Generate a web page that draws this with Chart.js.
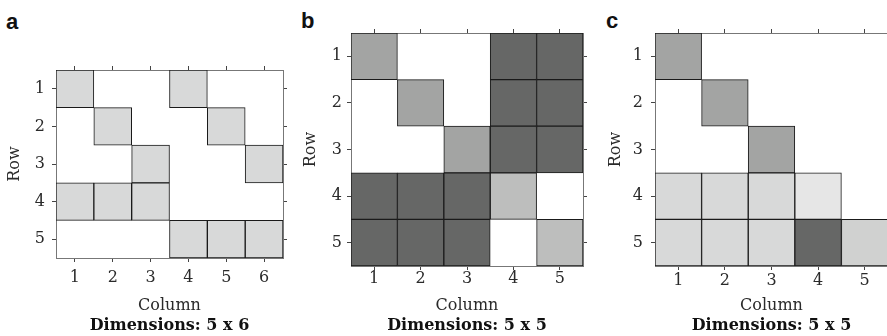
<!DOCTYPE html>
<html>
<head>
<meta charset="utf-8">
<script src="https://cdn.jsdelivr.net/npm/chart.js@4.4.0/dist/chart.umd.min.js"></script>
<style>
  html, body { margin: 0; padding: 0; background: #fff; width: 887px; height: 336px; overflow: hidden; }
  body { position: relative; }
  .panel { position: absolute; top: 0; height: 336px; }
  .tag { position: absolute; font: bold 22px "Liberation Sans", Arial, sans-serif; line-height: 22px; color: #111; }
</style>
</head>
<body>
<div class="tag" style="left:6px;top:11px">a</div>
<div class="tag" style="left:301px;top:10px">b</div>
<div class="tag" style="left:606px;top:10px">c</div>
<div class="panel" style="left:0;width:296px"><canvas id="chartA" width="296" height="336"></canvas></div>
<div class="panel" style="left:296px;width:296px"><canvas id="chartB" width="296" height="336"></canvas></div>
<div class="panel" style="left:600px;width:296px"><canvas id="chartC" width="296" height="336"></canvas></div>
<script>
// ---- data ----
const rowLabels = ['1', '2', '3', '4', '5'];
const colsA = [1, 2, 3, 4, 5, 6];
const colsB = [1, 2, 3, 4, 5];
const colsC = [1, 2, 3, 4, 5];

// shade code per cell, 0 = empty
const cellsA = [
  [1, 0, 0, 1, 0, 0],
  [0, 1, 0, 0, 1, 0],
  [0, 0, 1, 0, 0, 1],
  [1, 1, 1, 0, 0, 0],
  [0, 0, 0, 1, 1, 1]
];
const cellsB = [
  [2, 0, 0, 4, 4],
  [0, 2, 0, 4, 4],
  [0, 0, 2, 4, 4],
  [4, 4, 4, 3, 0],
  [4, 4, 4, 0, 3]
];
const cellsC = [
  [2, 0, 0, 0, 0],
  [0, 2, 0, 0, 0],
  [0, 0, 2, 0, 0],
  [1, 1, 1, 5, 0],
  [1, 1, 1, 4, 6]
];

const shades = { 1: '#d8d9d9', 2: '#a3a4a3', 3: '#bdbebd', 4: '#666766', 5: '#e6e6e6', 6: '#d0d1d0' };

const serif = '"DejaVu Serif", "Liberation Serif", serif';
const textColor = '#2a2a2a';
const TITLE_TOP = 315.8; // top of the "Dimensions" line

function cellDatasets(cols, cells) {
  return cols.map((c, j) => ({
    data: rowLabels.map((r, i) => cells[i][j] ? [c - 0.5, c + 0.5] : null),
    backgroundColor: cells.map(row => shades[row[j]] || 'transparent'),
    borderColor: '#1a1a1a',
    borderWidth: 1,
    borderSkipped: false,
    grouped: false,
    categoryPercentage: 1,
    barPercentage: 1
  }));
}

function tickGrid() {
  return { display: true, drawOnChartArea: false, drawTicks: true, tickLength: 4, color: '#444', offset: false };
}

function makeChart(id, cols, cells, dims, box) {
  const colTicks = s => { s.ticks = cols.map(v => ({ value: v })); };
  return new Chart(document.getElementById(id), {
    type: 'bar',
    data: { labels: rowLabels, datasets: cellDatasets(cols, cells) },
    options: {
      indexAxis: 'y',
      responsive: false,
      animation: false,
      layout: { padding: { left: 0, top: box.top, right: box.padRight, bottom: 0 } },
      plugins: {
        legend: { display: false },
        tooltip: { enabled: false },
        title: {
          display: true,
          position: 'bottom',
          fullSize: false,
          text: 'Dimensions: ' + dims,
          color: '#111',
          font: { family: serif, size: 16, weight: 'bold' },
          padding: { top: 0, bottom: 1 }
        }
      },
      scales: {
        x: {
          type: 'linear',
          position: 'bottom',
          min: 0.5,
          max: cols.length + 0.5,
          afterBuildTicks: colTicks,
          afterFit: s => { s.height = TITLE_TOP - box.bottom; },
          grid: tickGrid(),
          border: { color: '#777', width: 1 },
          ticks: { color: textColor, font: { family: serif, size: 16 }, padding: box.xPad },
          title: { display: true, text: 'Column', color: textColor, font: { family: serif, size: 16 }, padding: { top: 0, bottom: 0 } }
        },
        x2: {
          type: 'linear',
          position: 'top',
          min: 0.5,
          max: cols.length + 0.5,
          afterBuildTicks: colTicks,
          afterFit: s => { s.height = 0; },
          grid: tickGrid(),
          border: { color: '#777', width: 1 },
          ticks: { display: false }
        },
        y: {
          type: 'category',
          position: 'left',
          offset: true,
          afterFit: s => { s.width = box.yWidth; },
          grid: tickGrid(),
          border: { color: '#777', width: 1 },
          ticks: { color: textColor, font: { family: serif, size: 16 }, padding: box.yPad },
          title: { display: true, text: 'Row', color: textColor, font: { family: serif, size: 16 }, padding: { top: box.rowPad, bottom: 0 } }
        },
        y2: {
          type: 'category',
          position: 'right',
          offset: true,
          afterFit: s => { s.width = 0; },
          grid: tickGrid(),
          border: { color: '#777', width: 1 },
          ticks: { display: false }
        }
      }
    }
  });
}

makeChart('chartA', colsA, cellsA, '5 x 6', { top: 70, bottom: 258, padRight: 13, yWidth: 56, yPad: 7, xPad: 6, rowPad: 5.4 });
makeChart('chartB', colsB, cellsB, '5 x 5', { top: 33, bottom: 266, padRight: 9, yWidth: 55, yPad: 5, xPad: -1, rowPad: 5.4 });
makeChart('chartC', colsC, cellsC, '5 x 5', { top: 33, bottom: 266, padRight: 8, yWidth: 55, yPad: 8, xPad: 1, rowPad: 6.4 });
</script>
</body>
</html>
